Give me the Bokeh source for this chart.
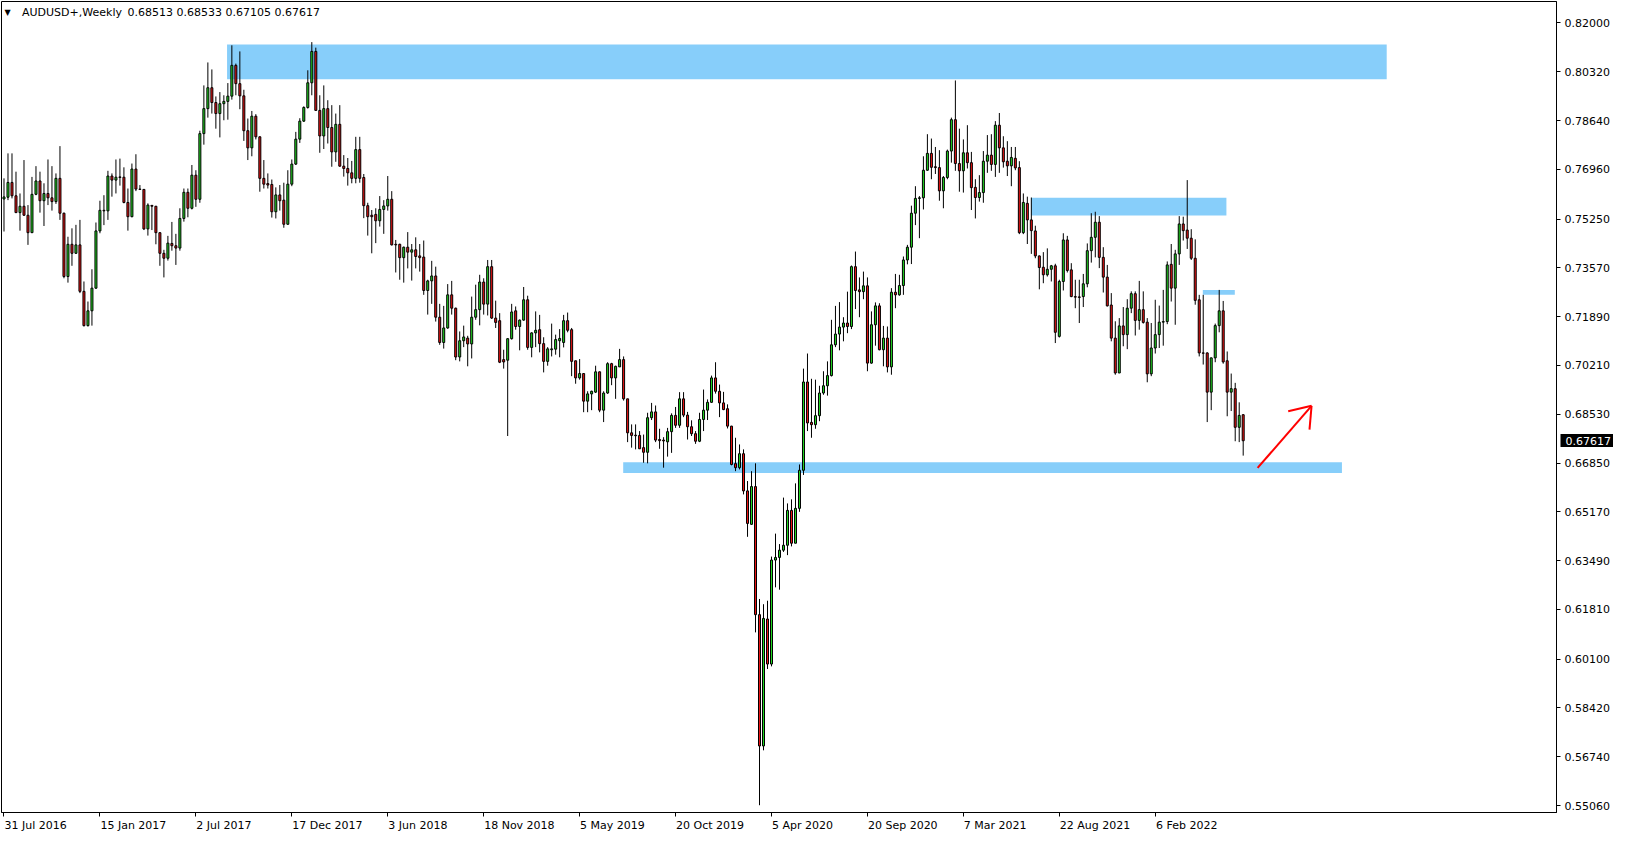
from bokeh.plotting import figure
from bokeh.models import FixedTicker, Label, Range1d, ColumnDataSource, LinearAxis
from bokeh.embed import file_html
from bokeh.resources import INLINE
import math

# ---------------- data (AUDUSD+, weekly, one bar per week from 31 Jul 2016) ----------------
opens = [
    0.7594, 0.7600, 0.7651, 0.7605, 0.7547, 0.7569, 0.7538, 0.7478, 0.7610, 0.7656,
    0.7588, 0.7613, 0.7598, 0.7585, 0.7665, 0.7545, 0.7327, 0.7438, 0.7407, 0.7436,
    0.7276, 0.7158, 0.7209, 0.7287, 0.7484, 0.7555, 0.7553, 0.7673, 0.7659, 0.7670,
    0.7669, 0.7582, 0.7533, 0.7697, 0.7628, 0.7627, 0.7491, 0.7572, 0.7569, 0.7478,
    0.7407, 0.7390, 0.7441, 0.7433, 0.7425, 0.7527, 0.7617, 0.7562, 0.7676, 0.7593,
    0.7819, 0.7905, 0.7977, 0.7926, 0.7888, 0.7922, 0.7930, 0.7948, 0.8054, 0.7991,
    0.7949, 0.7829, 0.7770, 0.7879, 0.7808, 0.7665, 0.7647, 0.7644, 0.7550, 0.7608,
    0.7590, 0.7507, 0.7645, 0.7714, 0.7800, 0.7862, 0.7909, 0.7994, 0.8102, 0.7899,
    0.7811, 0.7905, 0.7840, 0.7756, 0.7851, 0.7707, 0.7699, 0.7684, 0.7665, 0.7764,
    0.7668, 0.7571, 0.7538, 0.7541, 0.7519, 0.7558, 0.7570, 0.7593, 0.7438, 0.7438,
    0.7392, 0.7428, 0.7411, 0.7419, 0.7398, 0.7394, 0.7279, 0.7312, 0.7329, 0.7187,
    0.7100, 0.7150, 0.7264, 0.7218, 0.7050, 0.7106, 0.7115, 0.7095, 0.7187, 0.7213,
    0.7308, 0.7232, 0.7361, 0.7184, 0.7175, 0.7041, 0.7039, 0.7113, 0.7209, 0.7155,
    0.7177, 0.7247, 0.7083, 0.7133, 0.7144, 0.7096, 0.7035, 0.7075, 0.7077, 0.7106,
    0.7100, 0.7175, 0.7144, 0.7037, 0.6978, 0.6993, 0.6898, 0.6923, 0.6929, 0.6999,
    0.6867, 0.6926, 0.7027, 0.6978, 0.7016, 0.7041, 0.6906, 0.6789, 0.6781, 0.6780,
    0.6738, 0.6722, 0.6841, 0.6861, 0.6766, 0.6764, 0.6758, 0.6793, 0.6849, 0.6815,
    0.6906, 0.6850, 0.6810, 0.6786, 0.6760, 0.6835, 0.6867, 0.6894, 0.6978, 0.6932,
    0.6892, 0.6872, 0.6812, 0.6683, 0.6669, 0.6717, 0.6589, 0.6474, 0.6604, 0.6163,
    0.5711, 0.6148, 0.5993, 0.6351, 0.6360, 0.6385, 0.6402, 0.6522, 0.6409, 0.6529,
    0.6660, 0.6964, 0.6825, 0.6817, 0.6848, 0.6926, 0.6951, 0.6986, 0.7092, 0.7129,
    0.7153, 0.7167, 0.7155, 0.7361, 0.7281, 0.7275, 0.7295, 0.7029, 0.7161, 0.7226,
    0.7075, 0.7115, 0.7016, 0.7273, 0.7264, 0.7296, 0.7384, 0.7428, 0.7545, 0.7596,
    0.7598, 0.7693, 0.7751, 0.7705, 0.7702, 0.7622, 0.7668, 0.7759, 0.7867, 0.7716,
    0.7691, 0.7753, 0.7719, 0.7634, 0.7599, 0.7616, 0.7724, 0.7745, 0.7713, 0.7848,
    0.7770, 0.7724, 0.7708, 0.7734, 0.7702, 0.7478, 0.7579, 0.7522, 0.7484, 0.7398,
    0.7359, 0.7333, 0.7352, 0.7364, 0.7121, 0.7310, 0.7453, 0.7350, 0.7258, 0.7257,
    0.7258, 0.7302, 0.7416, 0.7462, 0.7514, 0.7393, 0.7325, 0.7229, 0.7115, 0.6995,
    0.7157, 0.7127, 0.7218, 0.7268, 0.7176, 0.7213, 0.7170, 0.6992, 0.7081, 0.7127,
    0.7170, 0.7172, 0.7369, 0.7287, 0.7405, 0.7508, 0.7487, 0.7459, 0.7390, 0.7247,
    0.7064, 0.7064, 0.6929, 0.7047, 0.7158, 0.7209, 0.7037, 0.6929, 0.6941, 0.6808,
    0.68513,
]
highs = [
    0.7665, 0.7751, 0.7751, 0.7688, 0.7613, 0.7728, 0.7573, 0.7670, 0.7707, 0.7688,
    0.7648, 0.7730, 0.7707, 0.7682, 0.7776, 0.7547, 0.7464, 0.7493, 0.7505, 0.7522,
    0.7310, 0.7241, 0.7352, 0.7513, 0.7588, 0.7607, 0.7691, 0.7682, 0.7730, 0.7733,
    0.7703, 0.7630, 0.7716, 0.7748, 0.7642, 0.7628, 0.7579, 0.7573, 0.7570, 0.7479,
    0.7419, 0.7467, 0.7515, 0.7474, 0.7562, 0.7630, 0.7630, 0.7711, 0.7693, 0.7829,
    0.7985, 0.8064, 0.8040, 0.7947, 0.7962, 0.7951, 0.7993, 0.8123, 0.8060, 0.8102,
    0.7970, 0.7871, 0.7897, 0.7886, 0.7810, 0.7728, 0.7682, 0.7661, 0.7634, 0.7642,
    0.7650, 0.7693, 0.7730, 0.7825, 0.7872, 0.7913, 0.8037, 0.8134, 0.8115, 0.7951,
    0.7985, 0.7934, 0.7917, 0.7888, 0.7917, 0.7745, 0.7735, 0.7725, 0.7808, 0.7808,
    0.7680, 0.7581, 0.7556, 0.7562, 0.7604, 0.7590, 0.7673, 0.7621, 0.7453, 0.7440,
    0.7430, 0.7480, 0.7439, 0.7462, 0.7439, 0.7451, 0.7316, 0.7381, 0.7361, 0.7233,
    0.7226, 0.7301, 0.7312, 0.7220, 0.7138, 0.7158, 0.7123, 0.7258, 0.7299, 0.7333,
    0.7321, 0.7384, 0.7384, 0.7244, 0.7201, 0.7075, 0.7115, 0.7233, 0.7224, 0.7179,
    0.7291, 0.7261, 0.7135, 0.7207, 0.7195, 0.7118, 0.7084, 0.7165, 0.7127, 0.7146,
    0.7195, 0.7203, 0.7150, 0.7037, 0.7043, 0.6994, 0.6932, 0.6934, 0.7020, 0.7000,
    0.6932, 0.7032, 0.7030, 0.7020, 0.7078, 0.7052, 0.6906, 0.6818, 0.6818, 0.6795,
    0.6783, 0.6858, 0.6892, 0.6883, 0.6803, 0.6774, 0.6806, 0.6856, 0.6878, 0.6929,
    0.6929, 0.6861, 0.6832, 0.6795, 0.6858, 0.6938, 0.6904, 0.6986, 0.7032, 0.6955,
    0.6930, 0.6887, 0.6813, 0.6772, 0.6749, 0.6732, 0.6623, 0.6657, 0.6684, 0.6217,
    0.6199, 0.6211, 0.6363, 0.6442, 0.6406, 0.6566, 0.6546, 0.6560, 0.6615, 0.6680,
    0.7010, 0.7062, 0.6975, 0.6972, 0.6951, 0.7001, 0.7035, 0.7178, 0.7226, 0.7239,
    0.7187, 0.7275, 0.7365, 0.7413, 0.7324, 0.7344, 0.7324, 0.7207, 0.7238, 0.7235,
    0.7157, 0.7155, 0.7287, 0.7336, 0.7333, 0.7396, 0.7436, 0.7571, 0.7638, 0.7604,
    0.7741, 0.7817, 0.7802, 0.7773, 0.7762, 0.7673, 0.7764, 0.7874, 0.8002, 0.7836,
    0.7799, 0.7848, 0.7756, 0.7662, 0.7676, 0.7759, 0.7814, 0.7817, 0.7862, 0.7890,
    0.7810, 0.7793, 0.7773, 0.7773, 0.7724, 0.7613, 0.7602, 0.7599, 0.7502, 0.7399,
    0.7411, 0.7424, 0.7367, 0.7371, 0.7316, 0.7476, 0.7467, 0.7373, 0.7316, 0.7316,
    0.7336, 0.7441, 0.7545, 0.7550, 0.7535, 0.7428, 0.7367, 0.7270, 0.7173, 0.7184,
    0.7222, 0.7249, 0.7276, 0.7276, 0.7312, 0.7276, 0.7184, 0.7167, 0.7247, 0.7227,
    0.7281, 0.7379, 0.7439, 0.7419, 0.7535, 0.7533, 0.7659, 0.7490, 0.7455, 0.7264,
    0.7264, 0.7066, 0.7048, 0.7165, 0.7281, 0.7243, 0.7069, 0.6993, 0.6961, 0.6894,
    0.68533,
]
lows = [
    0.7482, 0.7590, 0.7596, 0.7547, 0.7485, 0.7536, 0.7436, 0.7478, 0.7607, 0.7547,
    0.7501, 0.7573, 0.7554, 0.7577, 0.7522, 0.7321, 0.7306, 0.7364, 0.7405, 0.7270,
    0.7155, 0.7155, 0.7158, 0.7285, 0.7476, 0.7504, 0.7522, 0.7602, 0.7613, 0.7640,
    0.7579, 0.7485, 0.7531, 0.7621, 0.7625, 0.7487, 0.7468, 0.7487, 0.7438, 0.7364,
    0.7324, 0.7382, 0.7416, 0.7367, 0.7416, 0.7516, 0.7531, 0.7558, 0.7567, 0.7581,
    0.7781, 0.7874, 0.7888, 0.7836, 0.7806, 0.7865, 0.7867, 0.7936, 0.7951, 0.7903,
    0.7794, 0.7728, 0.7741, 0.7799, 0.7619, 0.7630, 0.7630, 0.7530, 0.7527, 0.7554,
    0.7495, 0.7505, 0.7638, 0.7711, 0.7787, 0.7859, 0.7905, 0.7951, 0.7897, 0.7753,
    0.7766, 0.7785, 0.7705, 0.7722, 0.7705, 0.7671, 0.7640, 0.7648, 0.7648, 0.7650,
    0.7528, 0.7468, 0.7407, 0.7442, 0.7499, 0.7474, 0.7554, 0.7434, 0.7341, 0.7316,
    0.7306, 0.7355, 0.7313, 0.7355, 0.7344, 0.7264, 0.7196, 0.7233, 0.7172, 0.7092,
    0.7079, 0.7147, 0.7196, 0.7039, 0.7035, 0.7084, 0.7018, 0.7045, 0.7178, 0.7159,
    0.7196, 0.7193, 0.7181, 0.7150, 0.7029, 0.7010, 0.6778, 0.7110, 0.7144, 0.7073,
    0.7175, 0.7075, 0.7049, 0.7084, 0.7066, 0.6997, 0.7020, 0.7052, 0.7058, 0.7049,
    0.7083, 0.7135, 0.6984, 0.6958, 0.6972, 0.6860, 0.6860, 0.6867, 0.6926, 0.6860,
    0.6826, 0.6923, 0.6953, 0.6906, 0.7016, 0.6900, 0.6757, 0.6738, 0.6732, 0.6734,
    0.6686, 0.6684, 0.6833, 0.6757, 0.6734, 0.6669, 0.6707, 0.6720, 0.6806, 0.6806,
    0.6843, 0.6766, 0.6778, 0.6751, 0.6757, 0.6795, 0.6833, 0.6892, 0.6924, 0.6843,
    0.6867, 0.6804, 0.6677, 0.6657, 0.6663, 0.6577, 0.6431, 0.6472, 0.6102, 0.5507,
    0.5696, 0.5976, 0.5985, 0.6257, 0.6249, 0.6379, 0.6368, 0.6398, 0.6409, 0.6517,
    0.6644, 0.6795, 0.6772, 0.6803, 0.6829, 0.6920, 0.6917, 0.6983, 0.7084, 0.7073,
    0.7104, 0.7132, 0.7146, 0.7215, 0.7187, 0.7249, 0.7001, 0.7027, 0.7089, 0.7073,
    0.7018, 0.6997, 0.6989, 0.7218, 0.7261, 0.7264, 0.7369, 0.7370, 0.7504, 0.7459,
    0.7558, 0.7691, 0.7662, 0.7680, 0.7588, 0.7562, 0.7662, 0.7719, 0.7691, 0.7619,
    0.7616, 0.7699, 0.7556, 0.7527, 0.7585, 0.7581, 0.7684, 0.7691, 0.7670, 0.7684,
    0.7702, 0.7673, 0.7638, 0.7693, 0.7473, 0.7473, 0.7439, 0.7405, 0.7390, 0.7283,
    0.7304, 0.7327, 0.7310, 0.7098, 0.7117, 0.7279, 0.7341, 0.7256, 0.7218, 0.7167,
    0.7222, 0.7290, 0.7375, 0.7393, 0.7356, 0.7272, 0.7224, 0.7104, 0.6989, 0.6995,
    0.7087, 0.7077, 0.7201, 0.7124, 0.7144, 0.7165, 0.6963, 0.6984, 0.7062, 0.7081,
    0.7089, 0.7163, 0.7241, 0.7161, 0.7367, 0.7451, 0.7422, 0.7384, 0.7230, 0.7052,
    0.7024, 0.6826, 0.6867, 0.7032, 0.7135, 0.7027, 0.6846, 0.6864, 0.6760, 0.6757,
    0.67105,
]
closes = [
    0.7601, 0.7651, 0.7605, 0.7547, 0.7569, 0.7538, 0.7478, 0.7610, 0.7656, 0.7588,
    0.7613, 0.7598, 0.7585, 0.7665, 0.7545, 0.7327, 0.7438, 0.7407, 0.7436, 0.7276,
    0.7158, 0.7209, 0.7287, 0.7484, 0.7555, 0.7553, 0.7673, 0.7659, 0.7669, 0.7668,
    0.7582, 0.7533, 0.7697, 0.7628, 0.7627, 0.7491, 0.7573, 0.7569, 0.7478, 0.7407,
    0.7390, 0.7442, 0.7433, 0.7425, 0.7527, 0.7617, 0.7562, 0.7676, 0.7593, 0.7819,
    0.7905, 0.7977, 0.7926, 0.7888, 0.7922, 0.7930, 0.7948, 0.8054, 0.7991, 0.7949,
    0.7829, 0.7770, 0.7879, 0.7808, 0.7665, 0.7645, 0.7642, 0.7550, 0.7608, 0.7588,
    0.7507, 0.7645, 0.7714, 0.7800, 0.7862, 0.7909, 0.7994, 0.8102, 0.7899, 0.7811,
    0.7905, 0.7840, 0.7756, 0.7851, 0.7707, 0.7699, 0.7684, 0.7665, 0.7764, 0.7665,
    0.7571, 0.7533, 0.7533, 0.7519, 0.7558, 0.7570, 0.7593, 0.7436, 0.7436, 0.7392,
    0.7428, 0.7411, 0.7419, 0.7396, 0.7392, 0.7279, 0.7312, 0.7329, 0.7187, 0.7100,
    0.7150, 0.7264, 0.7218, 0.7050, 0.7106, 0.7119, 0.7095, 0.7187, 0.7213, 0.7308,
    0.7232, 0.7361, 0.7184, 0.7169, 0.7032, 0.7033, 0.7113, 0.7205, 0.7155, 0.7177,
    0.7247, 0.7083, 0.7133, 0.7142, 0.7096, 0.7035, 0.7078, 0.7078, 0.7110, 0.7114,
    0.7175, 0.7142, 0.7035, 0.6978, 0.6993, 0.6898, 0.6923, 0.6932, 0.6999, 0.6867,
    0.6926, 0.7027, 0.6978, 0.7018, 0.7041, 0.6906, 0.6789, 0.6780, 0.6779, 0.6734,
    0.6722, 0.6841, 0.6861, 0.6764, 0.6762, 0.6761, 0.6793, 0.6849, 0.6815, 0.6906,
    0.6850, 0.6810, 0.6786, 0.6760, 0.6835, 0.6867, 0.6894, 0.6978, 0.6932, 0.6892,
    0.6869, 0.6812, 0.6680, 0.6669, 0.6717, 0.6589, 0.6477, 0.6604, 0.6163, 0.5711,
    0.6150, 0.5993, 0.6351, 0.6360, 0.6385, 0.6402, 0.6522, 0.6409, 0.6529, 0.6660,
    0.6964, 0.6823, 0.6817, 0.6848, 0.6926, 0.6951, 0.6986, 0.7092, 0.7129, 0.7153,
    0.7167, 0.7155, 0.7361, 0.7279, 0.7275, 0.7295, 0.7029, 0.7161, 0.7226, 0.7075,
    0.7115, 0.7016, 0.7273, 0.7264, 0.7296, 0.7384, 0.7428, 0.7545, 0.7596, 0.7598,
    0.7693, 0.7751, 0.7703, 0.7702, 0.7622, 0.7668, 0.7759, 0.7867, 0.7716, 0.7691,
    0.7753, 0.7719, 0.7633, 0.7599, 0.7616, 0.7724, 0.7745, 0.7713, 0.7848, 0.7770,
    0.7722, 0.7708, 0.7737, 0.7701, 0.7478, 0.7582, 0.7522, 0.7485, 0.7398, 0.7358,
    0.7333, 0.7352, 0.7364, 0.7135, 0.7310, 0.7453, 0.7348, 0.7258, 0.7256, 0.7255,
    0.7302, 0.7416, 0.7462, 0.7514, 0.7393, 0.7325, 0.7226, 0.7115, 0.6995, 0.7157,
    0.7127, 0.7218, 0.7268, 0.7176, 0.7213, 0.7169, 0.6992, 0.7081, 0.7127, 0.7170,
    0.7172, 0.7367, 0.7287, 0.7405, 0.7508, 0.7485, 0.7459, 0.7390, 0.7245, 0.7064,
    0.7063, 0.6929, 0.7047, 0.7158, 0.7209, 0.7033, 0.6929, 0.6941, 0.6808, 0.6849,
    0.67617,
]

symbol = "AUDUSD+,Weekly"
date_labels = ["31 Jul 2016", "15 Jan 2017", "2 Jul 2017", "17 Dec 2017", "3 Jun 2018",
               "18 Nov 2018", "5 May 2019", "20 Oct 2019", "5 Apr 2020", "20 Sep 2020",
               "7 Mar 2021", "22 Aug 2021", "6 Feb 2022"]
date_label_bars = [0, 24, 48, 72, 96, 120, 144, 168, 192, 216, 240, 264, 288]
price_ticks = [0.82000, 0.80320, 0.78640, 0.76960, 0.75250, 0.73570, 0.71890, 0.70210,
               0.68530, 0.66850, 0.65170, 0.63490, 0.61810, 0.60100, 0.58420, 0.56740, 0.55060]

# drawn zones: (start bar, end bar, lower price, upper price)
zone_start = [55.8, 256.9, 299.9, 154.9]
zone_end = [345.9, 305.8, 307.9, 334.7]
zone_low = [0.8006, 0.7537, 0.7264, 0.6651]
zone_high = [0.8126, 0.7598, 0.7281, 0.6688]

# drawn arrow: tail (bar, price) -> tip (bar, price)
arrow_tail = (313.6, 0.6668)
arrow_tip = (327.1, 0.6882)

# ---------------- figure ----------------
FONT = "DejaVu Sans"
W, H = 1613, 834
FRAME_W, FRAME_H = 1556, 813
BAR_PX = 4.0                      # one weekly bar every 4 px
X0 = -0.625
X1 = X0 + FRAME_W / BAR_PX
PX_PER_PRICE = 2912.0
Y1 = 0.82 + 21.5 / PX_PER_PRICE
Y0 = Y1 - FRAME_H / PX_PER_PRICE

GREEN = "#22d822"
RED = "#ec1414"
ZONE = "#87cefa"

p = figure(width=W, height=H, output_backend="svg", toolbar_location=None,
           x_range=Range1d(X0, X1), y_range=Range1d(Y0, Y1),
           y_axis_location="right", min_border_left=1, min_border_top=1,
           min_border_right=W - FRAME_W - 1, min_border_bottom=H - FRAME_H - 1)
p.background_fill_color = "white"
p.border_fill_color = "white"
p.outline_line_color = "black"
p.outline_line_width = 1
p.grid.visible = False

n = len(closes)
idx = list(range(n))
src = ColumnDataSource(dict(
    x=idx, o=opens, h=highs, l=lows, c=closes,
    top=[max(a, b) for a, b in zip(opens, closes)],
    bot=[min(a, b) for a, b in zip(opens, closes)],
    col=[GREEN if c >= o else RED for o, c in zip(opens, closes)],
))

# zones (behind candles)
p.quad(left=zone_start, right=zone_end, bottom=zone_low, top=zone_high,
       fill_color=ZONE, line_color=None)

p.segment(x0="x", y0="l", x1="x", y1="h", source=src, line_color="black", line_width=1)
p.vbar(x="x", width=0.5, top="top", bottom="bot", source=src,
       fill_color="col", line_color="black", line_width=1)

# arrow (shaft + open head), head built in screen proportions
dxp = (arrow_tip[0] - arrow_tail[0]) * BAR_PX
dyp = (arrow_tip[1] - arrow_tail[1]) * PX_PER_PRICE
ang = math.atan2(dyp, dxp)
head_len, half = 24.0, math.radians(36)
hx, hy = [], []
for s in (1, -1):
    a = ang + math.pi + s * half
    hx.append([arrow_tip[0] + head_len * math.cos(a) / BAR_PX, arrow_tip[0]])
    hy.append([arrow_tip[1] + head_len * math.sin(a) / PX_PER_PRICE, arrow_tip[1]])
p.multi_line(xs=[[arrow_tail[0], arrow_tip[0]]] + hx,
             ys=[[arrow_tail[1], arrow_tip[1]]] + hy,
             line_color="#ff0000", line_width=2)

# price axis (right)
yax = p.yaxis[0]
yax.ticker = FixedTicker(ticks=price_ticks)
yax.major_label_overrides = {t: f"{t:.5f}" for t in price_ticks}
yax.major_label_text_font = FONT
yax.major_label_text_font_size = "11px"
yax.major_label_text_color = "black"
yax.major_tick_in = 0
yax.major_tick_out = 4
yax.minor_tick_in = 0
yax.minor_tick_out = 0
yax.major_label_standoff = 4
yax.minor_tick_line_color = None
yax.axis_line_color = "black"

# last-price tag: a second right axis stacked just outside the price axis;
# its single tick points back inward and is drawn thick, forming the black box,
# and its label (pulled back over the box) is white. It adds no width.
last = closes[-1]
tag = LinearAxis(ticker=FixedTicker(ticks=[last]),
                 major_label_overrides={last: f"{last:.5f}"},
                 major_tick_in=52, major_tick_out=2, major_tick_line_width=13,
                 minor_tick_in=0, minor_tick_out=0,
                 major_tick_line_color="black", major_tick_line_cap="butt",
                 major_label_text_font=FONT, major_label_text_font_size="11px",
                 major_label_text_color="white", major_label_standoff=-49,
                 minor_tick_line_color=None, axis_line_color=None)
p.add_layout(tag, "right")

# time axis (bottom): labels start at their bar, like the terminal draws them
ADV = {"0": .636, "1": .636, "2": .636, "3": .636, "4": .636, "5": .636, "6": .636,
       "7": .636, "8": .636, "9": .636, " ": .318, "J": .295, "a": .613, "n": .634,
       "u": .634, "l": .278, "D": .770, "e": .615, "c": .550, "M": .863, "y": .592,
       "N": .748, "o": .612, "v": .592, "O": .787, "t": .392, "A": .684, "p": .635,
       "r": .411, "S": .635, "F": .575, "b": .635, "g": .635}
label_centres = [b + (0.5 + 11 * sum(ADV.get(ch, .6) for ch in t) / 2) / BAR_PX
                 for b, t in zip(date_label_bars, date_labels)]
xax = p.xaxis[0]
xax.ticker = FixedTicker(ticks=label_centres, minor_ticks=date_label_bars)
xax.major_label_overrides = {c: t for c, t in zip(label_centres, date_labels)}
xax.major_label_text_font = FONT
xax.major_label_text_font_size = "11px"
xax.major_label_text_color = "black"
xax.major_tick_line_color = None
xax.major_tick_in = 0
xax.major_tick_out = 4
xax.minor_tick_in = 0
xax.minor_tick_out = 4
xax.minor_tick_line_color = "black"
xax.major_label_standoff = 2
xax.axis_line_color = "black"

# header (inside the chart window, top left)
HY = FRAME_H - 12.5
p.add_layout(Label(x=3, y=HY, x_units="screen", y_units="screen", text="\u25bc",
                   text_font=FONT, text_font_size="8px", text_color="black",
                   text_align="left", text_baseline="middle"))
p.add_layout(Label(x=20.5, y=HY, x_units="screen", y_units="screen", text=symbol,
                   text_font=FONT, text_font_size="11px", text_color="black",
                   text_align="left", text_baseline="middle"))
ohlc = " ".join(f"{v:.5f}" for v in (opens[-1], highs[-1], lows[-1], closes[-1]))
p.add_layout(Label(x=126, y=HY, x_units="screen", y_units="screen", text=ohlc,
                   text_font=FONT, text_font_size="11px", text_color="black",
                   text_align="left", text_baseline="middle"))

open("out.html", "w").write(file_html(p, INLINE))
